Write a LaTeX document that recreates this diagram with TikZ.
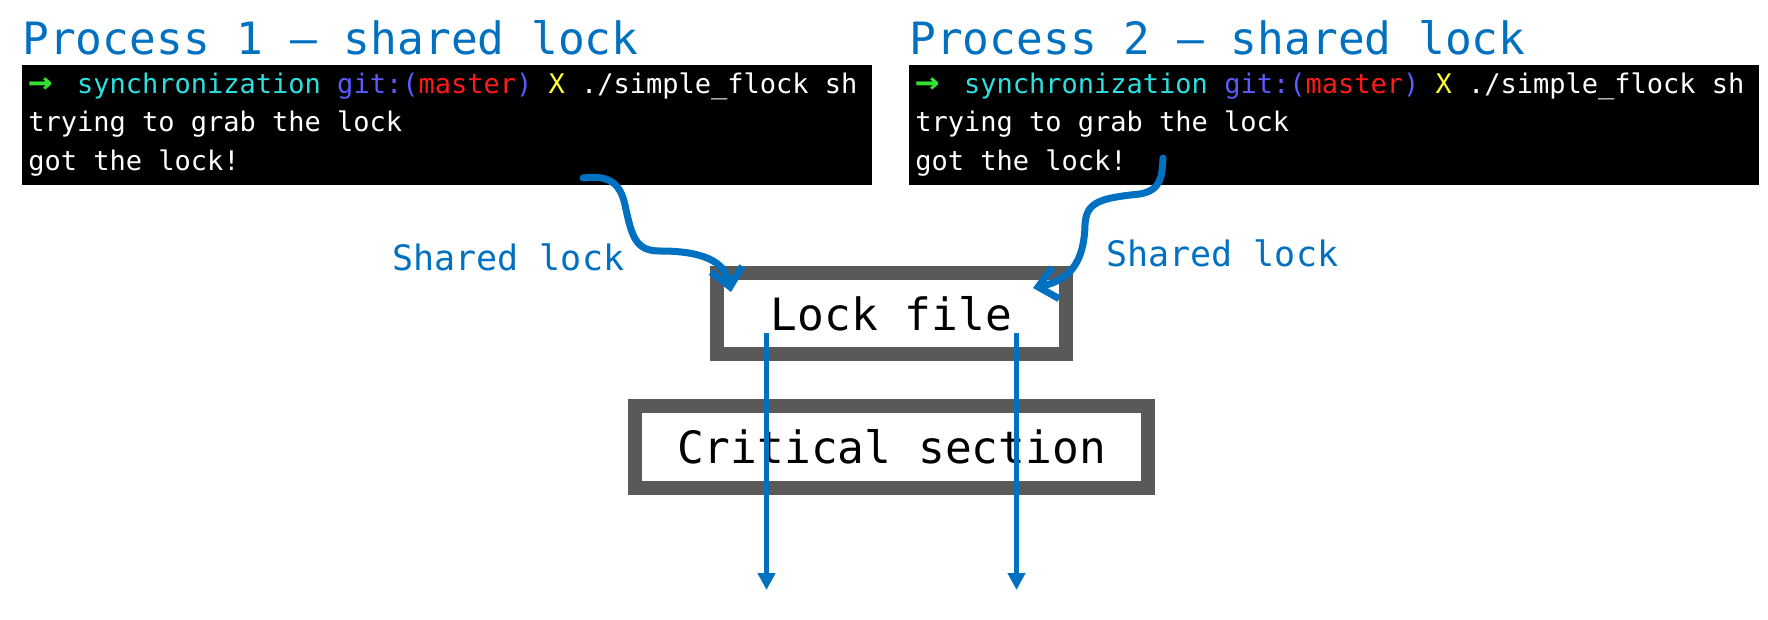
\documentclass[tikz,border=0pt]{standalone}
\usepackage{fontspec}
\newfontfamily\monofont{DejaVu Sans Mono}
\usetikzlibrary{arrows.meta}
\definecolor{slideblue}{HTML}{0070C0}
\definecolor{boxgray}{HTML}{595959}
\definecolor{tgreen}{HTML}{33E033}
\definecolor{tcyan}{HTML}{2CE0E0}
\definecolor{tblue}{HTML}{5A5AFF}
\definecolor{tred}{HTML}{FF1A1A}
\definecolor{tyellow}{HTML}{FFFF33}
\newcommand{\zshprompt}{{\color{tgreen}\makebox[0.602em][l]{\scalebox{1.5}[1.3]{\bfseries →}}}\ \ {\color{tcyan}synchronization} {\color{tblue}git:(}{\color{tred}master}{\color{tblue})} {\color{tyellow}X} ./simple\_flock sh}
\tikzset{
  heading/.style={anchor=base west,inner sep=0,text=slideblue,font=\monofont\fontsize{22.25}{26}\selectfont},
  term/.style={anchor=north west,fill=black,inner sep=0,outer sep=0,minimum width=425pt,minimum height=60pt},
  tline/.style={anchor=base west,inner sep=0,text=white,font=\monofont\fontsize{13.5}{16}\selectfont},
  lbl/.style={anchor=base west,inner sep=0,text=slideblue,font=\monofont\fontsize{17.5}{20}\selectfont},
  lockbox/.style={draw=boxgray,line width=7pt,fill=white,inner sep=0,font=\monofont\fontsize{22.25}{26}\selectfont},
  grab/.style={draw=slideblue,line width=3.5pt,line cap=round,line join=round,-{Straight Barb[length=9pt,width=16pt]}},
  flow/.style={draw=slideblue,line width=2.75pt,-{Triangle[length=8.5pt,width=8.5pt]}},
}
\begin{document}
\begin{tikzpicture}[x=.5pt,y=-.5pt]
  \useasboundingbox (0,0) rectangle (1768,620);
  \node[heading] (head1) at (22,55) {Process 1 – shared lock};
  \node[heading] (head2) at (909,55) {Process 2 – shared lock};
  \node[term] (term1) at (22,65) {}; \node[term] (term2) at (909,65) {};
  \foreach \t in {1,2} {
    \node[tline] (prompt\t) at ([shift={(6,29)}]term\t.north west) {\zshprompt};
    \node[tline] (try\t) at ([shift={(6,67)}]term\t.north west) {trying to grab the lock};
    \node[tline] (got\t) at ([shift={(6,106)}]term\t.north west) {got the lock!};
  }
  \node[lockbox,minimum width=174.5pt,minimum height=40.5pt] (lock) at (891.5,313.5) {Lock file};
  \node[lockbox,minimum width=256.5pt,minimum height=41pt] (crit) at (891.5,447) {Critical section};
  \node[lbl] (lbl1) at (392,271) {Shared lock};
  \node[lbl] (lbl2) at (1106,267) {Shared lock};
  % grabbing the lock
  \coordinate (src1) at ([shift={(561,-7)}]term1.south west);
  \coordinate (src2) at ([shift={(254,-27)}]term2.south west);
  \coordinate (dst1) at ([shift={(21,26)}]lock.north west);
  \coordinate (dst2) at ([shift={(-40,22)}]lock.north east);
  \draw[grab] (src1) .. controls +(25,-3) and +(-5,-23) .. ++(42,27) .. controls +(7,33) and +(-24,0) .. ++(35,46) .. controls +(40,0) and +(-6,-32) .. (dst1);
  \draw[grab] (src2) .. controls +(-1,17) and +(22,-4) .. ++(-23,36) .. controls +(-40,4) and +(1,-23) .. ++(-55,31) .. controls +(-1,37) and +(37,-8) .. (dst2);
  % both pass through
  \foreach \s/\n in {-125/1,125/2} {
    \coordinate (top\n) at ([shift={(\s,-28)}]lock.south);
    \coordinate (out\n) at ([shift={(\s,229)}]lock.south);
    \draw[flow] (top\n) -- (out\n);
  }
\end{tikzpicture}
\end{document}
